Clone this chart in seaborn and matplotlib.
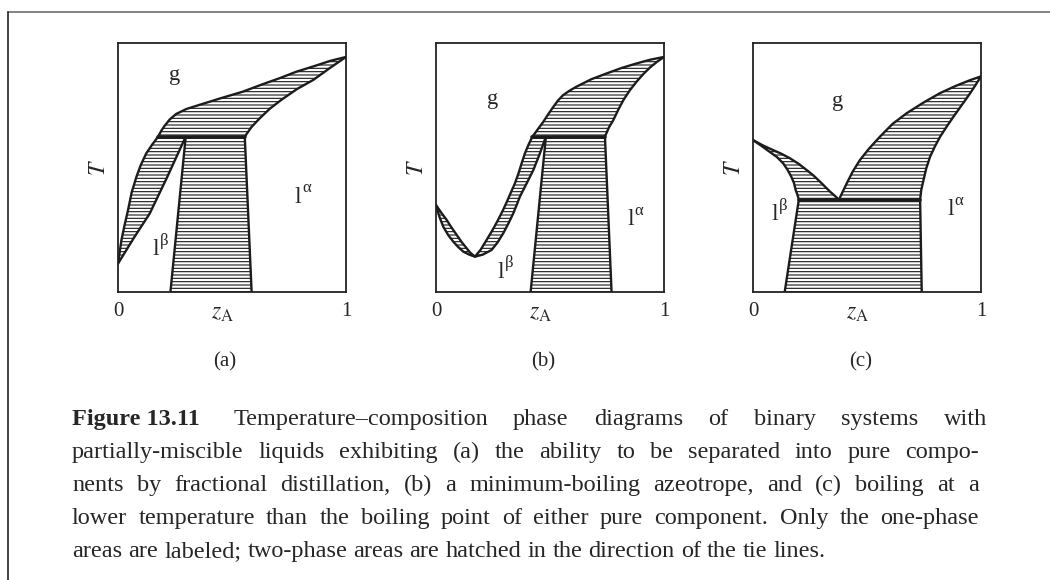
import matplotlib
matplotlib.use("Agg")
import matplotlib.pyplot as plt
import seaborn as sns
from matplotlib.lines import Line2D

# ---- panel (a): separable by fractional distillation
a_dew_hi_x = [1.0, 0.93, 0.857, 0.78, 0.71, 0.63, 0.549, 0.45, 0.359, 0.30, 0.255, 0.227, 0.205, 0.19, 0.176]
a_dew_hi_T = [0.944, 0.928, 0.906, 0.884, 0.859, 0.833, 0.805, 0.778, 0.752, 0.735, 0.715, 0.693, 0.668, 0.648, 0.624]
a_dew_lo_x = [0.176, 0.150, 0.124, 0.100, 0.081, 0.060, 0.044, 0.028, 0.015, 0.0]
a_dew_lo_T = [0.624, 0.592, 0.557, 0.510, 0.463, 0.400, 0.329, 0.265, 0.208, 0.114]
a_liqA_x = [0.556, 0.585, 0.622, 0.667, 0.717, 0.785, 0.857, 0.930, 1.0]
a_liqA_T = [0.624, 0.662, 0.698, 0.737, 0.772, 0.815, 0.852, 0.900, 0.944]
a_liqB_x = [0.0, 0.070, 0.139, 0.215, 0.297]
a_liqB_T = [0.114, 0.218, 0.315, 0.460, 0.624]
a_solB_x = [0.297, 0.230]
a_solA_x = [0.556, 0.586]
a_sol_T = [0.624, 0.0]

# ---- panel (b): minimum-boiling azeotrope
b_dew_hi_x = [1.0, 0.940, 0.880, 0.815, 0.749, 0.680, 0.617, 0.585, 0.558, 0.535, 0.515, 0.493, 0.471, 0.447, 0.423]
b_dew_hi_T = [0.944, 0.933, 0.918, 0.900, 0.878, 0.854, 0.825, 0.808, 0.791, 0.769, 0.744, 0.715, 0.684, 0.654, 0.624]
b_dew_lo_x = [0.423, 0.406, 0.390, 0.375, 0.362, 0.346, 0.330, 0.314, 0.294, 0.272, 0.248, 0.222, 0.196, 0.171,
              0.150, 0.135, 0.112, 0.091, 0.068, 0.047, 0.022, 0.0]
b_dew_lo_T = [0.624, 0.592, 0.557, 0.515, 0.477, 0.436, 0.403, 0.369, 0.329, 0.289, 0.249, 0.209, 0.170, 0.142,
              0.158, 0.175, 0.201, 0.229, 0.259, 0.289, 0.320, 0.349]
b_liqA_x = [0.741, 0.758, 0.778, 0.800, 0.822, 0.850, 0.880, 0.910, 0.939, 0.970, 1.0]
b_liqA_T = [0.624, 0.660, 0.691, 0.733, 0.771, 0.810, 0.845, 0.876, 0.902, 0.925, 0.944]
b_liqB_x = [0.0, 0.015, 0.032, 0.054, 0.076, 0.098, 0.120, 0.146, 0.171, 0.205, 0.244, 0.270, 0.295, 0.318,
            0.339, 0.354, 0.368, 0.398, 0.427, 0.455, 0.482]
b_liqB_T = [0.349, 0.302, 0.262, 0.228, 0.202, 0.180, 0.162, 0.150, 0.142, 0.150, 0.169, 0.199, 0.236, 0.276,
            0.316, 0.350, 0.383, 0.437, 0.490, 0.555, 0.624]
b_solB_x = [0.482, 0.415]
b_solA_x = [0.741, 0.770]
b_sol_T = [0.624, 0.0]

# ---- panel (c): boiling below both pure components
c_dew_hi_x = [1.0, 0.950, 0.890, 0.821, 0.750, 0.674, 0.612, 0.557, 0.510, 0.469, 0.437, 0.411, 0.392, 0.377]
c_dew_hi_T = [0.866, 0.850, 0.828, 0.799, 0.762, 0.718, 0.675, 0.624, 0.577, 0.530, 0.483, 0.436, 0.400, 0.371]
c_dew_lo_x = [0.377, 0.358, 0.338, 0.316, 0.294, 0.265, 0.235, 0.200, 0.162, 0.125, 0.088, 0.045, 0.0]
c_dew_lo_T = [0.371, 0.387, 0.403, 0.423, 0.443, 0.468, 0.490, 0.515, 0.537, 0.555, 0.570, 0.588, 0.610]
c_liqA_x = [0.733, 0.738, 0.748, 0.760, 0.777, 0.798, 0.821, 0.850, 0.880, 0.915, 0.953, 0.978, 1.0]
c_liqA_T = [0.371, 0.410, 0.450, 0.497, 0.544, 0.585, 0.624, 0.665, 0.705, 0.750, 0.799, 0.834, 0.866]
c_liqB_x = [0.0, 0.040, 0.073, 0.105, 0.132, 0.152, 0.168, 0.180, 0.187, 0.195, 0.201]
c_liqB_T = [0.610, 0.585, 0.563, 0.542, 0.517, 0.490, 0.463, 0.437, 0.410, 0.390, 0.371]
c_solB_x = [0.201, 0.139]
c_solA_x = [0.733, 0.740]
c_sol_T = [0.371, 0.0]

panel_tags = ["(a)", "(b)", "(c)"]
label_pos = {
    "(a)": {"g": (0.25, 0.87), "a": (0.80, 0.39), "b": (0.175, 0.18)},
    "(b)": {"g": (0.246, 0.775), "a": (0.864, 0.30), "b": (0.293, 0.09)},
    "(c)": {"g": (0.373, 0.767), "a": (0.877, 0.34), "b": (0.105, 0.32)},
}

caption_lines = [
    "Temperature\u2013composition phase diagrams of binary systems with",
    "partially-miscible liquids exhibiting (a) the ability to be separated into pure compo-",
    "nents by fractional distillation, (b) a minimum-boiling azeotrope, and (c) boiling at a",
    "lower temperature than the boiling point of either pure component. Only the one-phase",
    "areas are labeled; two-phase areas are hatched in the direction of the tie lines.",
]
caption_head = "Figure 13.11"

sns.set_style("white")
plt.rcParams["font.family"] = ["Liberation Serif", "DejaVu Serif"]
plt.rcParams["mathtext.fontset"] = "stix"
plt.rcParams["hatch.linewidth"] = 0.8
plt.rcParams["hatch.color"] = "#1a1a1a"

W, H = 1050, 580
fig = plt.figure(figsize=(W / 100, H / 100), dpi=100)
fig.patch.set_facecolor("white")

ink = "#1c1c1c"
lw = 1.7


def phase_label(ax, xy, greek):
    # upright "l" with an upright Greek superscript
    x, y = xy
    ax.text(x + 0.004, y - 0.032, "l", fontsize=17, ha="right", va="baseline")
    ax.annotate(greek, (x + 0.004, y - 0.032), xytext=(0.6, 7.5),
                textcoords="offset points", fontsize=12, ha="left", va="baseline")


def draw_panel(ax, dew_hi, dew_lo, liqA, liqB, solB_x, solA_x, sol_T, tag):
    hatch_kw = dict(facecolor="none", edgecolor="#1a1a1a", linewidth=0, hatch="-----")
    # two-phase areas (hatched along tie lines)
    ax.fill(dew_hi[0] + liqA[0], dew_hi[1] + liqA[1], **hatch_kw)
    ax.fill(dew_lo[0] + liqB[0], dew_lo[1] + liqB[1], **hatch_kw)
    ax.fill(solB_x + solA_x[::-1], sol_T + sol_T[::-1], **hatch_kw)

    for xs, ts in [dew_hi, dew_lo, liqA, liqB, (solB_x, sol_T), (solA_x, sol_T)]:
        sns.lineplot(x=xs, y=ts, sort=False, estimator=None, color=ink,
                     linewidth=lw, ax=ax)
    # three-phase line
    t3 = sol_T[0]
    xs3 = [dew_lo[0][0], liqB[0][-1], liqA[0][0]]
    sns.lineplot(x=[min(xs3), max(xs3)], y=[t3, t3], sort=False, estimator=None,
                 color=ink, linewidth=2.6, ax=ax)

    pos = label_pos[tag]
    ax.text(*pos["g"], "g", fontsize=16, ha="center", va="center")
    phase_label(ax, pos["a"], "\u03b1")
    phase_label(ax, pos["b"], "\u03b2")

    ax.set_xlim(0, 1)
    ax.set_ylim(0, 1)
    ax.set_xticks([0, 1])
    ax.set_xticklabels(["0", "1"], fontsize=15)
    ax.set_yticks([])
    ax.tick_params(axis="x", length=0, pad=7)
    ax.set_xlabel(r"$z_{\mathrm{A}}$", fontsize=17, va="center")
    ax.xaxis.set_label_coords(0.46, -0.085)
    ax.set_ylabel(r"$T$", fontsize=17, labelpad=6)
    for sp in ax.spines.values():
        sp.set_color("#222222")
        sp.set_linewidth(1.3)
    ax.text(0.47, -0.28, tag, transform=ax.transAxes, fontsize=15,
            ha="center", va="center")


panels = [
    ((a_dew_hi_x, a_dew_hi_T), (a_dew_lo_x, a_dew_lo_T), (a_liqA_x, a_liqA_T),
     (a_liqB_x, a_liqB_T), a_solB_x, a_solA_x, a_sol_T),
    ((b_dew_hi_x, b_dew_hi_T), (b_dew_lo_x, b_dew_lo_T), (b_liqA_x, b_liqA_T),
     (b_liqB_x, b_liqB_T), b_solB_x, b_solA_x, b_sol_T),
    ((c_dew_hi_x, c_dew_hi_T), (c_dew_lo_x, c_dew_lo_T), (c_liqA_x, c_liqA_T),
     (c_liqB_x, c_liqB_T), c_solB_x, c_solA_x, c_sol_T),
]
lefts = [118, 436, 753]
for left, tag, args in zip(lefts, panel_tags, panels):
    ax = fig.add_axes([left / W, 1 - 292 / H, 228 / W, 249 / H])
    draw_panel(ax, *args, tag)

# frame around the figure block
fig.add_artist(Line2D([8 / W, 1], [1 - 12 / H] * 2, color="#7a7a7a", lw=1.3))
fig.add_artist(Line2D([8 / W, 8 / W], [0, 1 - 12 / H], color="#222222", lw=1.2))

# justified caption
cap_fs = 17.5
x0, x1 = 72, 979
baselines = [425, 458, 491, 524, 557]
renderer = fig.canvas.get_renderer()


def text_width(s, weight="normal"):
    t = fig.text(0, 0, s, fontsize=cap_fs, fontweight=weight)
    w = t.get_window_extent(renderer).width
    t.remove()
    return w


for i, (line, yb) in enumerate(zip(caption_lines, baselines)):
    words = [(w, "normal") for w in line.split(" ")]
    if i == 0:
        words = [(caption_head, "bold")] + words
    widths = [text_width(w, wt) for w, wt in words]
    if i < len(caption_lines) - 1:
        gap = (x1 - x0 - sum(widths)) / (len(words) - 1)
    else:
        gap = text_width("a b") - text_width("ab")
    x = x0
    for (w, wt), ww in zip(words, widths):
        fig.text(x / W, 1 - yb / H, w, fontsize=cap_fs, fontweight=wt,
                 ha="left", va="baseline")
        x += ww + gap
        if i == 0 and wt == "bold":
            x += 8

fig.savefig("out.png", dpi=100, facecolor="white")
